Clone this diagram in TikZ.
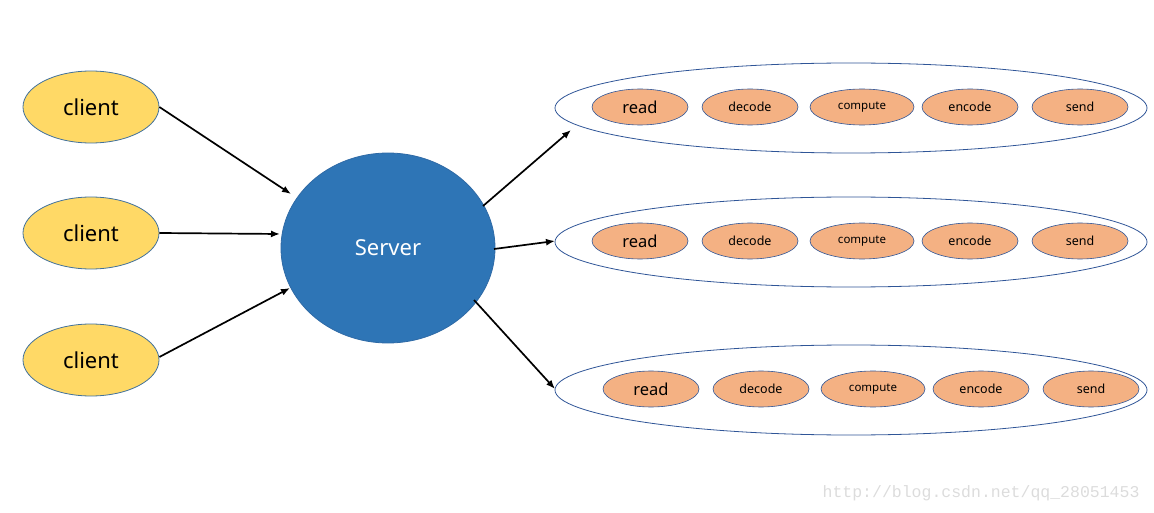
\documentclass[tikz,border=0pt]{standalone}
\usepackage{fontspec}
\setmainfont{Noto Sans}
\newfontfamily\wmfont{Liberation Mono}
\usetikzlibrary{shapes.geometric,arrows.meta}
\definecolor{clientfill}{HTML}{FFD966}
\definecolor{clientline}{HTML}{41719C}
\definecolor{serverfill}{HTML}{2E75B6}
\definecolor{serverline}{HTML}{2E6AA6}
\definecolor{stepfill}{HTML}{F4B183}
\definecolor{stepline}{HTML}{2F5597}
\definecolor{wm}{HTML}{DCDCDC}
\tikzset{
  clientnode/.style={ellipse, draw=clientline, fill=clientfill, line width=0.8pt, minimum width=136pt, minimum height=72pt, inner sep=0pt, font=\fontsize{22}{24}\selectfont},
  servernode/.style={ellipse, draw=serverline, fill=serverfill, line width=0.8pt, minimum width=214pt, minimum height=190pt, inner sep=0pt, text=white, font=\fontsize{22}{24}\selectfont},
  groupnode/.style={ellipse, draw=stepline, line width=0.8pt, minimum width=592pt, minimum height=90pt, inner sep=0pt},
  stepnode/.style={ellipse, draw=stepline, fill=stepfill, line width=0.6pt, minimum width=96pt, minimum height=36pt, inner sep=0pt, font=\fontsize{12.5}{14}\selectfont},
  computenode/.style={stepnode, minimum width=104pt, font=\fontsize{11.5}{13}\selectfont},
  readnode/.style={stepnode, font=\fontsize{16.5}{18}\selectfont},
  conn/.style={-{Latex[length=9pt,width=7pt]}, line width=1.7pt, black}
}
\begin{document}
\begin{tikzpicture}[x=1pt,y=-1pt]
\useasboundingbox (0,0) rectangle (1154,513);
\node[clientnode] (c1) at (91,107) {client};
\node[clientnode] (c2) at (91,233) {client};
\node[clientnode] (c3) at (91,360) {client};
\node[servernode] (srv) at (388,248) {Server};
\node[groupnode] (g1) at (851,108) {};
\node[groupnode] (g2) at (851,242) {};
\node[groupnode] (g3) at (851,390) {};
% row 1
\node[readnode] (r1) at (640,107) {read};
\node[stepnode] (d1) at (750,107) {decode};
\node[computenode] (p1) at (862,107) {compute};
\node[stepnode] (e1) at (970,107) {encode};
\node[stepnode] (s1) at (1080,107) {send};
% row 2
\node[readnode] (r2) at (640,241) {read};
\node[stepnode] (d2) at (750,241) {decode};
\node[computenode] (p2) at (862,241) {compute};
\node[stepnode] (e2) at (970,241) {encode};
\node[stepnode] (s2) at (1080,241) {send};
% row 3
\node[readnode] (r3) at (651,389) {read};
\node[stepnode] (d3) at (761,389) {decode};
\node[computenode] (p3) at (873,389) {compute};
\node[stepnode] (e3) at (981,389) {encode};
\node[stepnode] (s3) at (1091,389) {send};
% arrow end points
\coordinate (a1) at (291,194);
\coordinate (a2) at (280,234);
\coordinate (a3) at (290,288);
\coordinate (b1s) at (483,206);
\coordinate (b1) at (571,130);
\coordinate (b2s) at (494,249);
\coordinate (b2) at (555,241);
\coordinate (b3s) at (474,300);
\coordinate (b3) at (555,389);
\draw[conn] (c1.east) -- (a1);
\draw[conn] (c2.east) -- (a2);
\draw[conn] (c3.east) ++(0,-3) -- (a3);
\draw[conn] (b1s) -- (b1);
\draw[conn] (b2s) -- (b2);
\draw[conn] (b3s) -- (b3);
\node[text=wm, font=\wmfont\fontsize{16.5}{18}\selectfont, anchor=east] (wmk) at (1143,493) {http://blog.csdn.net/qq\_28051453};
\end{tikzpicture}
\end{document}
